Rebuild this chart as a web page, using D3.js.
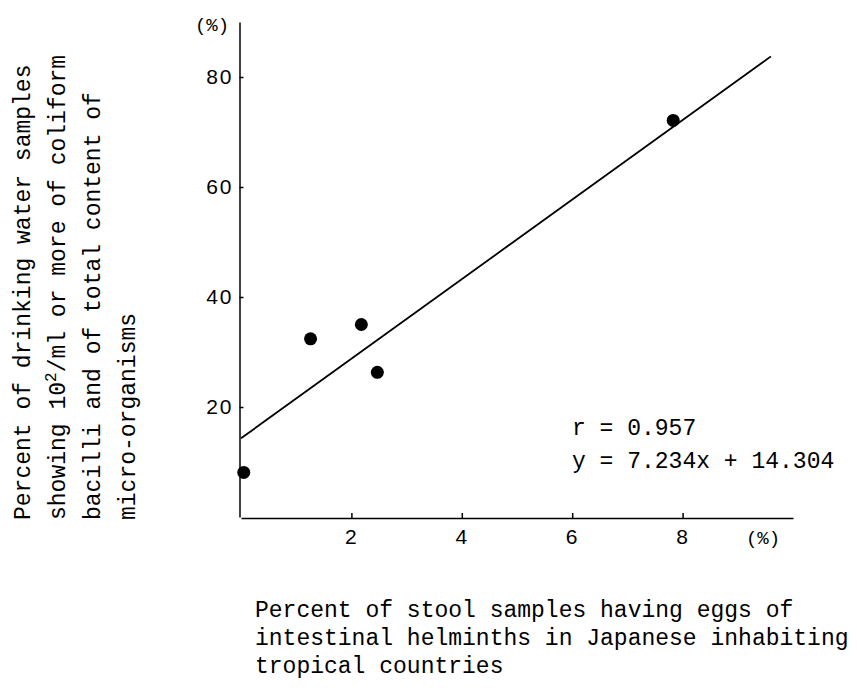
<!DOCTYPE html>
<html>
<head>
<meta charset="utf-8">
<script src="https://cdn.jsdelivr.net/npm/d3@7"></script>
<style>
  body { margin: 0; background: #fff; }
  .axis path, .axis line { stroke: #000; stroke-width: 1.5; }
  .axis text { font-family: "Liberation Sans", sans-serif; font-size: 21px; letter-spacing: 2px; fill: #000; }
  .mono { font-family: "Liberation Mono", "DejaVu Sans Mono", monospace; fill: #000; }
</style>
</head>
<body>
<div id="chart"></div>
<script>
// stool samples with helminth eggs (%) vs. drinking water samples (%)
var stoolPct = [0.05, 1.26, 2.18, 2.47, 7.83];
var waterPct = [8.1, 32.4, 35.0, 26.3, 72.1];

var xTicks = [2, 4, 6, 8];
var yTicks = [20, 40, 60, 80];

// regression line y = 7.234x + 14.304
var slope = 7.234, intercept = 14.304;
var fitX = [0, 9.6];

var yLabel = [
    "Percent of drinking water samples",
    ["showing 10", "2", "/ml or more of coliform"],
    "bacilli and of total content of",
    "micro-organisms"
];
var xLabel = [
    "Percent of stool samples having eggs of",
    "intestinal helminths in Japanese inhabiting",
    "tropical countries"
];

var width = 857, height = 697;

var svg = d3.select("#chart").append("svg")
    .attr("width", width)
    .attr("height", height);

var x = d3.scaleLinear()
    .domain([0, 10])
    .range([241, 793]);

var y = d3.scaleLinear()
    .domain([0, 90])
    .range([517, 22]);

var xAxis = d3.axisBottom(x)
    .tickValues(xTicks)
    .tickSizeInner(-5)
    .tickSizeOuter(0)
    .tickPadding(11);

var yAxis = d3.axisLeft(y)
    .tickValues(yTicks)
    .tickSizeInner(-4)
    .tickSizeOuter(0)
    .tickPadding(6);

svg.append("g")
    .attr("class", "axis")
    .attr("transform", "translate(0," + (y(0) + 1) + ")")
    .call(xAxis);

svg.append("g")
    .attr("class", "axis")
    .attr("transform", "translate(" + (x(0) - 1.5) + ",0)")
    .call(yAxis);

// unit labels
svg.append("text")
    .attr("class", "mono")
    .attr("x", 212)
    .attr("y", 31)
    .attr("text-anchor", "middle")
    .style("font-size", "19px")
    .text("(%)");

svg.append("text")
    .attr("class", "mono")
    .attr("x", 763)
    .attr("y", 544)
    .attr("text-anchor", "middle")
    .style("font-size", "19px")
    .text("(%)");

// fitted line
svg.append("line")
    .attr("x1", x(fitX[0]))
    .attr("y1", y(slope * fitX[0] + intercept))
    .attr("x2", x(fitX[1]))
    .attr("y2", y(slope * fitX[1] + intercept))
    .attr("stroke", "#000")
    .attr("stroke-width", 1.8);

// points
svg.selectAll(".dot")
    .data(stoolPct)
    .enter()
    .append("circle")
    .attr("class", "dot")
    .attr("cx", function(d) { return x(d); })
    .attr("cy", function(d, i) { return y(waterPct[i]); })
    .attr("r", 6.5)
    .attr("fill", "#000");

// statistics
svg.append("text")
    .attr("class", "mono")
    .attr("x", 572)
    .attr("y", 435)
    .style("font-size", "23px")
    .text("r = 0.957");

svg.append("text")
    .attr("class", "mono")
    .attr("x", 572)
    .attr("y", 468)
    .style("font-size", "23px")
    .text("y = " + slope + "x + " + intercept);

// y axis title, rotated
var yTitle = svg.append("g")
    .attr("transform", "translate(30,520) rotate(-90)");

yLabel.forEach(function(line, i) {
    var t = yTitle.append("text")
        .attr("class", "mono")
        .attr("x", 0)
        .attr("y", i * 35)
        .style("font-size", "23px");
    if (typeof line === "string") {
        t.text(line);
    } else {
        t.append("tspan").text(line[0]);
        t.append("tspan")
            .attr("dy", -9)
            .style("font-size", "16px")
            .text(line[1]);
        t.append("tspan")
            .attr("dy", 9)
            .text(line[2]);
    }
});

// x axis title
svg.selectAll(".xtitle")
    .data(xLabel)
    .enter()
    .append("text")
    .attr("class", "mono xtitle")
    .attr("x", 255)
    .attr("y", function(d, i) { return 617 + i * 28; })
    .style("font-size", "23px")
    .text(function(d) { return d; });
</script>
</body>
</html>
